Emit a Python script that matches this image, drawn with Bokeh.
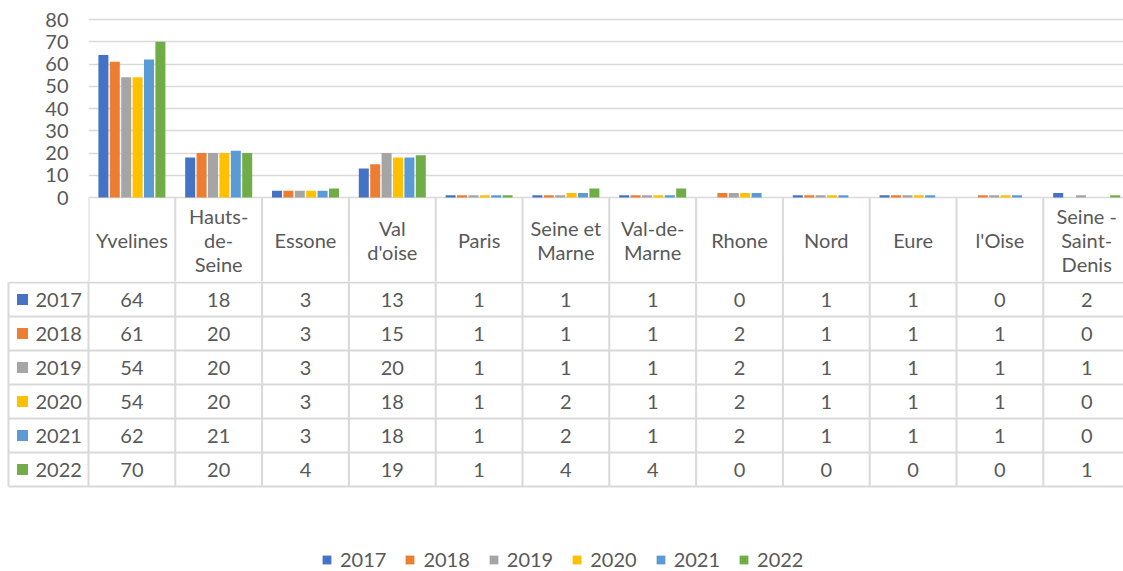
from bokeh.plotting import figure
from bokeh.models import Range1d, FixedTicker, Legend, LegendItem
from bokeh.layouts import column
from bokeh.embed import file_html
from bokeh.resources import INLINE
from bokeh.core.properties import value

# ---------------- data ----------------
categories = ["Yvelines", "Hauts-de-Seine", "Essone", "Val d'oise", "Paris",
              "Seine et Marne", "Val-de-Marne", "Rhone", "Nord", "Eure",
              "l'Oise", "Seine - Saint-Denis"]
header_labels = ["Yvelines", "Hauts-\nde-\nSeine", "Essone", "Val\nd'oise", "Paris",
                 "Seine et\nMarne", "Val-de-\nMarne", "Rhone", "Nord", "Eure",
                 "l'Oise", "Seine -\nSaint-\nDenis"]
years = ["2017", "2018", "2019", "2020", "2021", "2022"]
v2017 = [64, 18, 3, 13, 1, 1, 1, 0, 1, 1, 0, 2]
v2018 = [61, 20, 3, 15, 1, 1, 1, 2, 1, 1, 1, 0]
v2019 = [54, 20, 3, 20, 1, 1, 1, 2, 1, 1, 1, 1]
v2020 = [54, 20, 3, 18, 1, 2, 1, 2, 1, 1, 1, 0]
v2021 = [62, 21, 3, 18, 1, 2, 1, 2, 1, 1, 1, 0]
v2022 = [70, 20, 4, 19, 1, 4, 4, 0, 0, 0, 0, 1]
series = [v2017, v2018, v2019, v2020, v2021, v2022]
y_ticks = [0, 10, 20, 30, 40, 50, 60, 70, 80]
colors = ["#4472C4", "#ED7D31", "#A5A5A5", "#FFC000", "#5B9BD5", "#70AD47"]

# ---------------- layout constants ----------------
W, H = 1123, 571
LEFT = 88            # px where the plot area / first column starts
COL = 86.8           # px per category column
ZERO_PX = 197        # px of value 0
HDR_BOT = 281        # px of the bottom of the header row
TOP_H = HDR_BOT      # bar figure includes the header row
PPU = 178 / 80       # px per value unit
GRID = "#D9D9D9"
TXT = "#595959"
FONT = "Lato"
FS = "20px"
n = len(categories)

# ---------------- bar chart + header row ----------------
p1 = figure(width=W, height=TOP_H, output_backend="svg", toolbar_location=None,
            x_range=Range1d(0, (W - LEFT) / COL),
            y_range=Range1d(-(TOP_H - ZERO_PX) / PPU, ZERO_PX / PPU),
            x_axis_location=None, min_border_left=LEFT, min_border_right=0,
            min_border_top=0, min_border_bottom=0)
p1.frame_align = False
p1.extra_y_ranges = {"px": Range1d(TOP_H, 0)}
p1.outline_line_color = None
p1.xgrid.visible = False
p1.ygrid.ticker = FixedTicker(ticks=y_ticks)
p1.ygrid.grid_line_color = GRID
p1.ygrid.grid_line_width = 1.6
yax = p1.yaxis[0]
yax.ticker = FixedTicker(ticks=y_ticks)
yax.axis_line_color = None
yax.major_tick_line_color = None
yax.minor_tick_line_color = None
yax.major_tick_out = 0
yax.major_label_standoff = 20
yax.major_label_text_font = FONT
yax.major_label_text_font_size = FS
yax.major_label_text_color = TXT

pitch = 11.4 / COL
bw = 10 / COL
for k, (yr, vals) in enumerate(zip(years, series)):
    xs = [i + 0.5 + (k - 2.5) * pitch for i in range(n)]
    p1.vbar(x=xs, top=vals, bottom=0, width=bw, fill_color=colors[k], line_color=None)

# header row borders and labels
p1.segment(x0=list(range(n + 1)), x1=list(range(n + 1)), y0=[ZERO_PX] * (n + 1),
           y1=[TOP_H + 5] * (n + 1), line_color=GRID, line_width=2, y_range_name="px")
p1.text(x=[i + 0.5 for i in range(n)], y=[(ZERO_PX + HDR_BOT) / 2] * n, text=header_labels,
        text_align="center", text_baseline="middle", text_font=value(FONT),
        text_font_size=FS, text_color=TXT, text_line_height=1.0, y_range_name="px")

# ---------------- data table rows ----------------
p2 = figure(width=W, height=H - TOP_H, output_backend="svg", toolbar_location=None,
            x_range=Range1d(-LEFT / COL, (W - LEFT) / COL),
            y_range=Range1d(H, TOP_H),
            x_axis_location=None, y_axis_location=None,
            min_border_left=0, min_border_right=0, min_border_top=0, min_border_bottom=0)
p2.frame_align = False
p2.outline_line_color = None
p2.grid.visible = False

row_top = HDR_BOT + 1
row_h = 34
table_left = (8 - LEFT) / COL
row_lines = [row_top + r * row_h for r in range(len(years) + 1)]
p2.segment(x0=[table_left] * len(row_lines), x1=[n] * len(row_lines),
           y0=row_lines, y1=row_lines, line_color=GRID, line_width=2)
p2.segment(x0=list(range(n + 1)), x1=list(range(n + 1)), y0=[TOP_H - 5] * (n + 1),
           y1=[row_lines[-1]] * (n + 1), line_color=GRID, line_width=2)
p2.segment(x0=[table_left], x1=[table_left], y0=[row_top], y1=[row_lines[-1]],
           line_color=GRID, line_width=2)

legend_items = []
for r, (yr, vals) in enumerate(zip(years, series)):
    yc = row_top + row_h * r + row_h / 2
    sq = p2.rect(x=[(22 - LEFT) / COL], y=[yc], width=11, height=11,
                 width_units="screen", height_units="screen",
                 fill_color=colors[r], line_color=None)
    legend_items.append(LegendItem(label=yr, renderers=[sq]))
    p2.text(x=[(35 - LEFT) / COL], y=[yc], text=[yr], text_align="left",
            text_baseline="middle", text_font=value(FONT), text_font_size=FS,
            text_color=TXT)
    p2.text(x=[i + 0.5 for i in range(n)], y=[yc] * n, text=[str(v) for v in vals],
            text_align="center", text_baseline="middle", text_font=value(FONT),
            text_font_size=FS, text_color=TXT)

legend = Legend(items=legend_items, orientation="horizontal", location=(321, 0),
                glyph_width=11, glyph_height=11, label_standoff=8, spacing=18,
                padding=0, margin=0, border_line_color=None, background_fill_alpha=0,
                label_text_font=FONT, label_text_font_size=FS, label_text_color=TXT)
p2.add_layout(legend)

layout = column(p1, p2, spacing=0)
open("out.html", "w").write(file_html(layout, INLINE))
